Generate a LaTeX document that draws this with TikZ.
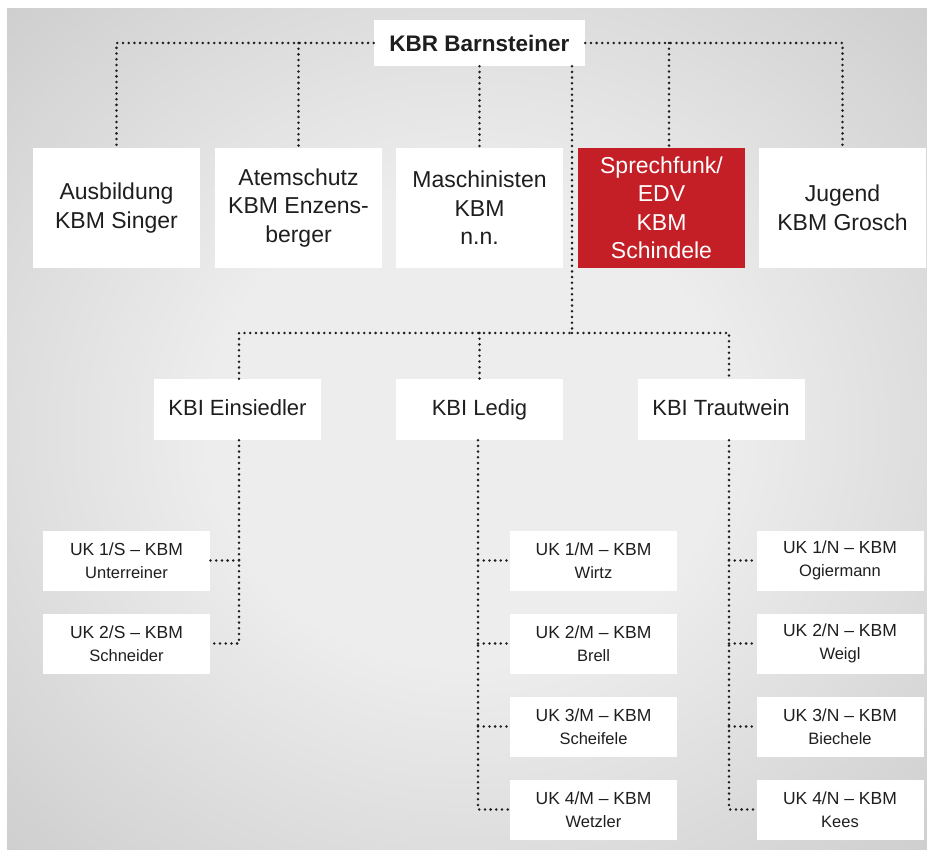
\documentclass[tikz,border=0pt]{standalone}
\usepackage{fontspec}
\setmainfont{Liberation Sans}

\definecolor{inkgray}{HTML}{1E1E1E}
\definecolor{firered}{HTML}{C41F26}
\definecolor{bglight}{HTML}{EDEDED}
\definecolor{bgmid}{HTML}{BABABA}
\definecolor{bgdark}{HTML}{999999}
\pgfdeclareradialshading{bgglow}{\pgfpoint{0bp}{0bp}}{color(0bp)=(bglight); color(14bp)=(bglight); color(50bp)=(bgmid); color(72bp)=(bgdark)}

\tikzset{
  orgbox/.style={fill=white, inner sep=0pt, align=center, text=inkgray},
  chiefbox/.style={orgbox, minimum width=211pt, minimum height=46pt, font=\fontsize{22.5}{26}\selectfont\bfseries},
  deptbox/.style={orgbox, minimum width=167pt, minimum height=120pt, font=\fontsize{23}{28.5}\selectfont},
  kbibox/.style={orgbox, minimum width=167pt, minimum height=61pt, text height=16pt, text depth=4.5pt, font=\fontsize{22}{26}\selectfont},
  ukbox/.style={orgbox, minimum width=167pt, minimum height=60pt, font=\fontsize{17.5}{23.5}\selectfont},
  orgline/.style={draw=inkgray, line width=2.8pt, line cap=round, dash pattern=on 0pt off 5.7pt}
}
\newcommand{\ukname}[1]{{\fontsize{16.5}{20}\selectfont #1}}

\begin{document}
\begin{tikzpicture}[x=1pt, y=-1pt]
      \useasboundingbox (0,0) rectangle (927,850);
      \fill[white] (0,0) rectangle (927,850);
      \shade[shading=bgglow] (7,9) rectangle (927,850);

      % KBR
      \node (kbr) [chiefbox] at (479.5,43) {KBR Barnsteiner};

      % Sachgebiete
      \node (ausb) [deptbox] at (116.5,208) {Ausbildung\\KBM Singer};
      \node (atem) [deptbox] at (298.5,208) {Atemschutz\\KBM Enzens-\\berger};
      \node (masch) [deptbox] at (479.5,208) {Maschinisten\\KBM\\n.n.};
      \node (funk) [deptbox, fill=firered, text=white] at (661.5,208) {Sprechfunk/\\EDV\\KBM\\Schindele};
      \node (jugend) [deptbox] at (842.5,208) {Jugend\\KBM Grosch};

      % Inspektionen
      \node (kbis) [kbibox] at (237.5,409.5) {KBI Einsiedler};
      \node (kbim) [kbibox] at (479.5,409.5) {KBI Ledig};
      \node (kbin) [kbibox] at (721,409.5) {KBI Trautwein};

      % Unterkreise
      \foreach \name [count=\i] in {Unterreiner, Schneider} {
          \node (uks\i) [ukbox] at ({126.5}, {477.5+83*\i}) {UK \i/S – KBM\\\ukname{\name}};
        }
      \foreach \name [count=\i] in {Wirtz, Brell, Scheifele, Wetzler} {
          \node (ukm\i) [ukbox] at ({593.5}, {477.5+83*\i}) {UK \i/M – KBM\\\ukname{\name}};
        }
      \foreach \name [count=\i] in {Ogiermann, Weigl, Biechele, Kees} {
          \node (ukn\i) [ukbox] at ({840}, {477.5+83*\i}) {UK \i/N – KBM\\\ukname{\name}};
        }

      % Connections top
      \coordinate (funkin) at ([xshift=7.5pt]funk.north);
      \coordinate (split) at (572,333);
      \draw[orgline] (kbr.west) -| (ausb.north);
      \draw[orgline] (kbr.west -| atem.north) -- (atem.north);
      \draw[orgline] (kbr.south -| masch.north) -- (masch.north);
      \draw[orgline] (kbr.east) -| (jugend.north);
      \draw[orgline] (kbr.east -| funkin) -- (funkin);

      % Connections KBI
      \coordinate (nspine) at ([xshift=8pt]kbin.north);
      \coordinate (nspinelow) at ([xshift=8pt]kbin.south);
      \draw[orgline] (kbr.south -| split) -- (split);
      \draw[orgline] ([xshift=1.5pt]kbis.north) |- (split);
      \draw[orgline] (split) -| (nspine);
      \draw[orgline] (split -| kbim.north) -- (kbim.north);

      % Connections UK
      \draw[orgline] ([xshift=1.5pt]kbis.south) |- (uks2.east);
      \draw[orgline] ([xshift=1.5pt]kbis.south |- uks1.east) -- (uks1.east);
      \draw[orgline] ([xshift=-1.5pt]kbim.south) |- (ukm4.west);
      \draw[orgline] (nspinelow) |- (ukn4.west);
      \foreach \i in {1,2,3} {
          \draw[orgline] ([xshift=-1.5pt]kbim.south |- ukm\i.west) -- (ukm\i.west);
          \draw[orgline] (nspinelow |- ukn\i.west) -- (ukn\i.west);
        }
    \end{tikzpicture}
\end{document}
